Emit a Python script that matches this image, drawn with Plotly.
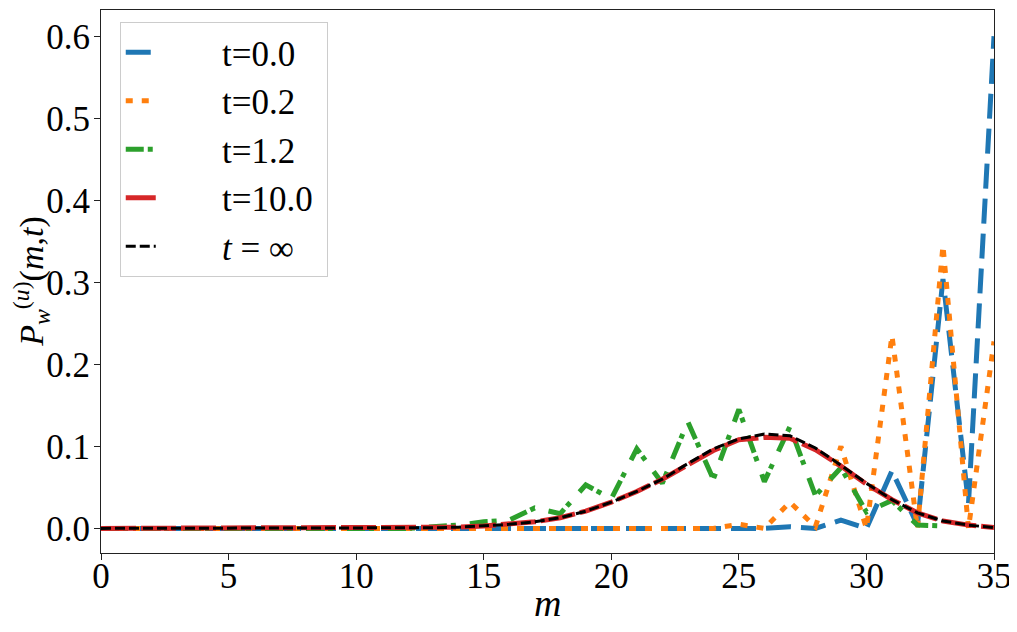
import plotly.graph_objects as go

m = list(range(36))

# t = 0.0
p_t00 = [0.0] * 27 + [0.002, 0.0, 0.01, 0.0, 0.07, 0.004, 0.304, 0.03, 0.600]
# t = 0.2
p_t02 = [0.0] * 25 + [0.005, 0.0, 0.032, 0.002, 0.100, 0.0, 0.235, 0.0, 0.345, 0.0, 0.228]
# t = 1.2
p_t12 = [0.0] * 13 + [0.002, 0.004, 0.008, 0.010, 0.025, 0.018, 0.053, 0.036, 0.097,
                      0.055, 0.130, 0.060, 0.145, 0.057, 0.124, 0.040, 0.074, 0.020,
                      0.034, 0.004, 0.003]
# t = 10.0
p_t10 = [0.0] * 12 + [0.0003, 0.0008, 0.0015, 0.003, 0.005, 0.008, 0.013, 0.021, 0.032,
                      0.045, 0.060, 0.078, 0.095, 0.108, 0.111, 0.110, 0.096, 0.076,
                      0.054, 0.035, 0.019, 0.009, 0.004, 0.001]
# t = infinity
p_inf = [0.0] * 12 + [0.0003, 0.0008, 0.0015, 0.003, 0.005, 0.008, 0.013, 0.021, 0.032,
                      0.045, 0.060, 0.079, 0.097, 0.109, 0.115, 0.113, 0.098, 0.077,
                      0.055, 0.035, 0.019, 0.009, 0.004, 0.001]

pad = "\u00a0" * 7
labels = ["t=0.0", "t=0.2", "t=1.2", "t=10.0", "<i>t</i> = ∞"]
names = [pad + s + "\u00a0" for s in labels]
series = [p_t00, p_t02, p_t12, p_t10, p_inf]
colors = ["#1f77b4", "#ff7f0e", "#2ca02c", "#d62728", "black"]
dashes = ["25px,10px", "7px,9px", "18px,4px,5px,14px", "35px,5px", "10px,4px"]
widths = [5, 5, 5, 5, 3]

fig = go.Figure()
for name, y, c, d, w in zip(names, series, colors, dashes, widths):
    fig.add_trace(go.Scatter(x=m, y=y, mode="lines", name=name,
                             line=dict(color=c, dash=d, width=w)))

font = "Liberation Serif, DejaVu Serif, serif"
axis = dict(showgrid=False, zeroline=False, showline=True, linecolor="#222",
            linewidth=1.2, mirror=True, ticks="outside", ticklen=6,
            tickcolor="#222", automargin=False,
            tickfont=dict(size=35, family=font, color="black"))

# page body has an 8px margin, so the figure is a bit smaller than the window
fig.update_layout(
    width=1009, height=624,
    margin=dict(l=93, r=23, t=2, b=79),
    paper_bgcolor="white", plot_bgcolor="white",
    font=dict(family=font, color="black"),
    xaxis=dict(axis, range=[0, 35], tickvals=[0, 5, 10, 15, 20, 25, 30, 35],
               ticklabelstandoff=-14),
    yaxis=dict(axis, range=[-0.030, 0.632],
               tickvals=[0.0, 0.1, 0.2, 0.3, 0.4, 0.5, 0.6],
               ticktext=["0.0", "0.1", "0.2", "0.3", "0.4", "0.5", "0.6"],
               ticklabelstandoff=-3),
    legend=dict(x=0.021, y=0.978, xanchor="left", yanchor="top",
                bgcolor="rgba(255,255,255,0.85)", bordercolor="#ccc", borderwidth=1,
                font=dict(size=35, family=font), tracegroupgap=0),
    showlegend=True,
)

fig.add_annotation(text="<i>m</i>", xref="paper", yref="paper", x=0.5, y=-0.092,
                   showarrow=False, font=dict(size=38, family=font),
                   xanchor="center", yanchor="middle")
fig.add_annotation(text="<i>P</i><sub><i>w</i></sub><sup>(<i>u</i>)</sup>(<i>m</i>,<i>t</i>)",
                   xref="paper", yref="paper", x=-0.078, y=0.5, textangle=-90,
                   showarrow=False, font=dict(size=34, family=font),
                   xanchor="center", yanchor="middle")

fig.write_html("out.html")
